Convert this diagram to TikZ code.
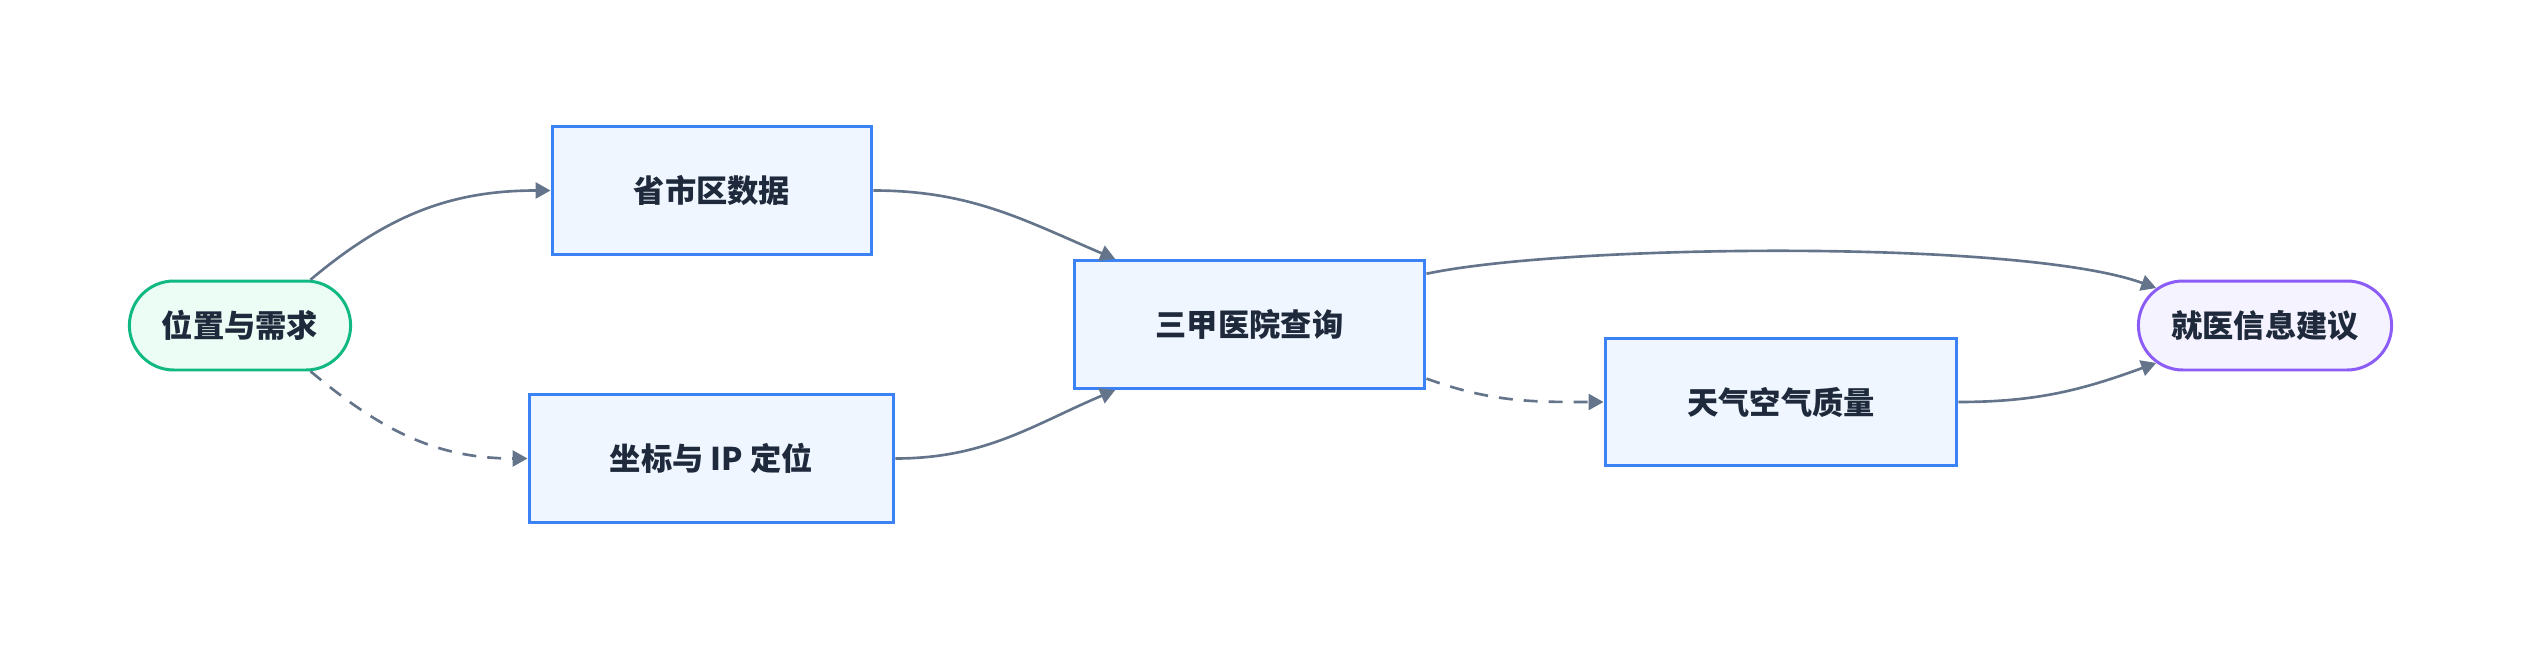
\documentclass[tikz,border=0pt]{standalone}
\usepackage{fontspec}
\setmainfont{Noto Sans CJK SC}
\usepackage{xcolor}
\usetikzlibrary{arrows.meta,shapes.misc}
\definecolor{boxline}{HTML}{3B82F6}
\definecolor{boxfill}{HTML}{EFF6FF}
\definecolor{startline}{HTML}{10B981}
\definecolor{startfill}{HTML}{ECFDF5}
\definecolor{endline}{HTML}{8B5CF6}
\definecolor{endfill}{HTML}{F5F3FF}
\definecolor{linkgray}{HTML}{64748B}
\definecolor{textdark}{HTML}{1E293B}

\begin{document}
\begin{tikzpicture}[x=0.02cm, y=-0.02cm, font=\fontsize{17.8}{20}\selectfont\bfseries,
    main/.style = {draw=boxline, fill=boxfill, line width=1.7pt, text=textdark, minimum height=2.56cm},
    term/.style = {rounded rectangle, line width=1.7pt, text=textdark, minimum height=1.78cm},
    link/.style = {draw=linkgray, line width=1.5pt, -{Triangle[length=0.3cm, width=0.32cm]}},
    optional/.style = {dash pattern=on 0.28cm off 0.22cm}]
    \useasboundingbox (0,0) rectangle (2522,652);

    \node[term, draw=startline, fill=startfill, minimum width=4.66cm](1) at (240,325.5){位置与需求};
    \node[main, minimum width=6.4cm](2) at (712,190.5){省市区数据};
    \node[main, minimum width=7.3cm](3) at (711.5,458.5){坐标与 IP 定位};
    \node[main, minimum width=7.02cm](4) at (1249.5,324.5){三甲医院查询};
    \node[main, minimum width=7.04cm](5) at (1781,402){天气空气质量};
    \node[term, draw=endline, fill=endfill, minimum width=5.3cm](6) at (2265,325.5){就医信息建议};

    \path
    (1.33) edge[link, out=40, in=180] (2.west)
    (1.-33) edge[link, optional, out=-40, in=180] (3.west)
    (2.east) edge[link, out=0, in=157] (4.154)
    (3.east) edge[link, out=0, in=203] (4.206)
    (4.16) edge[link, out=12, in=160, looseness=0.5] (6.161)
    (4.-17) edge[link, optional, out=-20, in=180] (5.west)
    (5.east) edge[link, out=0, in=200] (6.199)
    ;
  \end{tikzpicture}
\end{document}
